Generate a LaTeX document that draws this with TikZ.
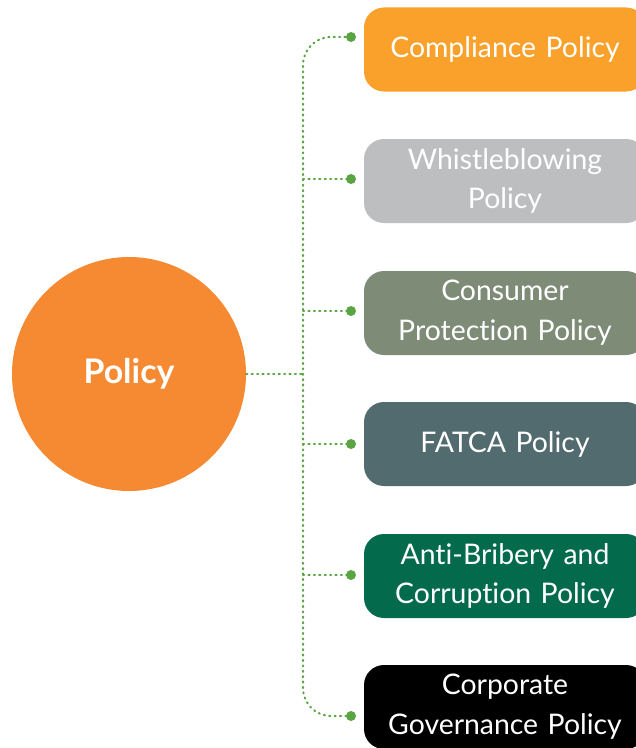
\documentclass[tikz,border=0pt]{standalone}
\usepackage{fontspec}
\setmainfont{Lato}[Ligatures={NoCommon}]
\usetikzlibrary{calc}
\definecolor{circorange}{HTML}{F68A33}
\definecolor{c1}{HTML}{F9A12B}
\definecolor{c2}{HTML}{BDBEC0}
\definecolor{c3}{HTML}{7D8B77}
\definecolor{c4}{HTML}{526B6F}
\definecolor{c5}{HTML}{036B4C}
\definecolor{c6}{HTML}{000000}
\definecolor{lgreen}{HTML}{5BA443}
\tikzset{
  box/.style={rounded corners=20bp, minimum width=282bp, minimum height=84bp,
    text width=275bp, align=center, text=white, inner sep=0pt,
    font=\fontsize{28.5}{40}\selectfont},
  dotline/.style={draw=lgreen, line width=2bp, dash pattern=on 1.2bp off 4.2bp, line cap=round},
  enddot/.style={fill=lgreen}
}
\begin{document}
\begin{tikzpicture}[x=1bp,y=-1bp]
\useasboundingbox (0,0) rectangle (636,748);
\clip (0,0) rectangle (636,748);
\node[circle, fill=circorange, minimum size=234bp, inner sep=0pt, text=white,
  font=\fontsize{34}{40}\selectfont\bfseries] (c) at (129,374) {Policy};
\node[box, fill=c1] (b1) at (505,49.5) {Compliance Policy};
\node[box, fill=c2] (b2) at (505,181) {Whistleblowing\\Policy};
\node[box, fill=c3] (b3) at (505,313) {Consumer\\Protection Policy};
\node[box, fill=c4] (b4) at (505,444) {FATCA Policy};
\node[box, fill=c5] (b5) at (505,576) {Anti-Bribery and\\Corruption Policy};
\node[box, fill=c6] (b6) at (505,707) {Corporate\\Governance Policy};
\coordinate (j) at (303,374);
\coordinate (d1) at (351,37);
\coordinate (d2) at (351,179);
\coordinate (d3) at (351,311);
\coordinate (d4) at (351,444);
\coordinate (d5) at (351,575);
\coordinate (d6) at (351,716);
\draw[dotline] (c.east) -- (j);
\draw[dotline, rounded corners=28bp] (d1) -| (j) |- (d6);
\foreach \i in {2,3,4,5} {\draw[dotline] (j |- d\i) -- (d\i);}
\foreach \i in {1,...,6} {\fill[enddot] (d\i) circle (5bp);}
\end{tikzpicture}
\end{document}
